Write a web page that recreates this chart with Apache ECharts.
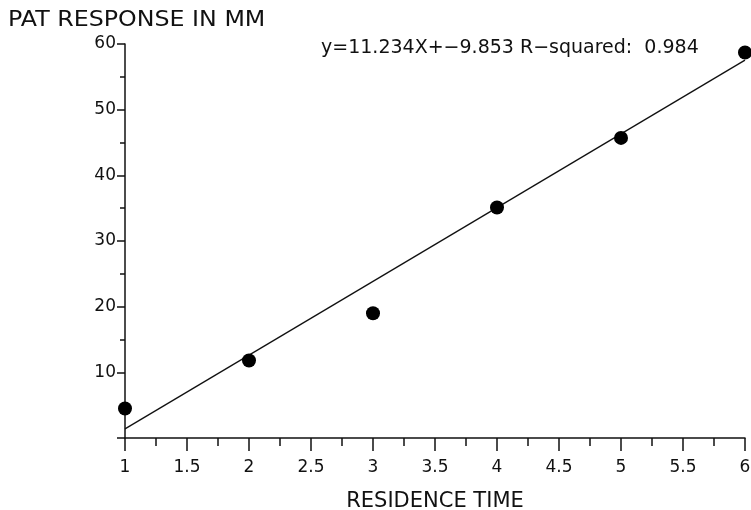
<!DOCTYPE html>
<html>
<head>
<meta charset="utf-8">
<script src="https://cdn.jsdelivr.net/npm/echarts@6/dist/echarts.min.js"></script>
<style>
  html, body { margin: 0; padding: 0; background: #fff; }
  #chart { width: 751px; height: 510px; }
</style>
</head>
<body>
<div id="chart"></div>
<script>
// residence time vs PAT response
var residenceTime = [1, 2, 3, 4, 5, 6];
var patResponse = [4.5, 11.8, 19.0, 35.1, 45.7, 58.7];
// fitted line from the printed equation
var slope = 11.234;
var intercept = -9.853;
var rSquared = 0.984;

var fitLine = [
    [residenceTime[0], slope * residenceTime[0] + intercept],
    [residenceTime[residenceTime.length - 1], slope * residenceTime[residenceTime.length - 1] + intercept]
];
var points = residenceTime.map(function (x, i) { return [x, patResponse[i]]; });

var font = 'DejaVu Sans';
var ink = '#111';

var option = {
    animation: false,
    backgroundColor: '#fff',
    title: [
        {
            text: 'y=' + slope + 'X+\u2212' + Math.abs(intercept) + ' R\u2212squared:  ' + rSquared,
            left: 316, top: 34,
            textStyle: { fontFamily: font, fontSize: 19, fontWeight: 'normal', color: ink }
        }
    ],
    // axis title, stretched a bit like the plotter lettering
    graphic: [
        {
            type: 'text',
            x: 8, y: 10,
            scaleX: 1.13,
            style: { text: 'PAT RESPONSE IN MM', fontFamily: font, fontSize: 21, fill: ink }
        }
    ],
    grid: { left: 125, right: 6, top: 44, bottom: 72, containLabel: false, outerBoundsMode: 'none' },
    xAxis: {
        type: 'value',
        min: 1, max: 6, interval: 0.5,
        name: 'RESIDENCE TIME',
        nameLocation: 'middle',
        nameGap: 53,
        nameTextStyle: { fontFamily: font, fontSize: 21, color: ink },
        axisLine: { show: true, onZero: false, lineStyle: { color: ink, width: 1.5 } },
        axisTick: { show: true, inside: false, length: 13, lineStyle: { color: ink, width: 1.5 } },
        minorTick: { show: true, splitNumber: 2, length: 8, lineStyle: { color: ink, width: 1.5 } },
        axisLabel: { fontFamily: font, fontSize: 17, color: ink, margin: 21 },
        splitLine: { show: false }
    },
    yAxis: {
        type: 'value',
        min: 0, max: 60, interval: 10,
        axisLine: { show: true, onZero: false, lineStyle: { color: ink, width: 1.5 } },
        axisTick: { show: true, inside: false, length: 8, lineStyle: { color: ink, width: 1.5 } },
        minorTick: { show: true, splitNumber: 2, length: 5, lineStyle: { color: ink, width: 1.5 } },
        axisLabel: {
            fontFamily: font, fontSize: 17, color: ink, margin: 9,
            formatter: function (v) { return v === 0 ? '' : v; }
        },
        splitLine: { show: false }
    },
    series: [
        {
            type: 'line',
            data: fitLine,
            symbol: 'none',
            lineStyle: { color: ink, width: 1.3 },
            z: 2
        },
        {
            type: 'scatter',
            data: points,
            symbol: 'circle',
            symbolSize: 14,
            itemStyle: { color: '#000', opacity: 1 },
            z: 3
        }
    ]
};

echarts.init(document.getElementById('chart')).setOption(option);
</script>
</body>
</html>
